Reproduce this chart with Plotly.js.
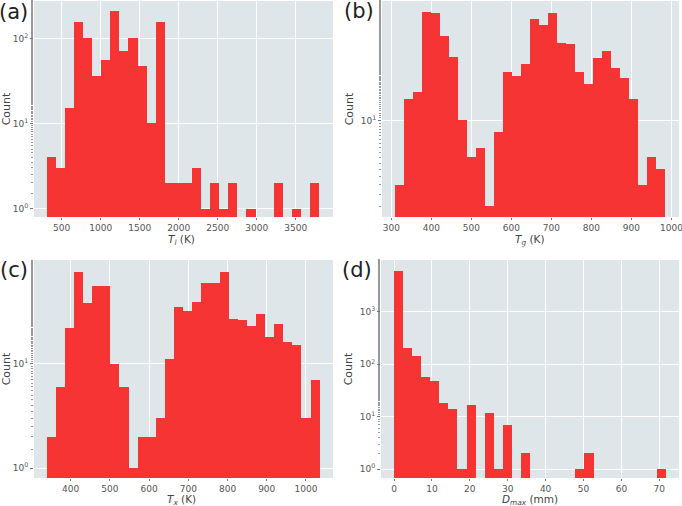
<!DOCTYPE html>
<html>
<head>
<meta charset="utf-8">
<script src="https://cdn.plot.ly/plotly-3.0.1.min.js"></script>
<style>
html,body{margin:0;padding:0;background:#fff;}
#chart{width:682px;height:506px;}
</style>
</head>
<body>
<div id="chart"></div>
<script>
// ---- data (30-bin histograms, counts per bin) ----
const TL_COUNTS   = [4,3,15,158,100,36,56,212,72,100,47,10,156,2,2,2,3,1,2,1,2,0,1,0,0,2,0,1,0,2];
const TG_COUNTS   = [3,15,17,77,75,49,33,10,5,6,2,8,25,23,29,67,60,75,43,42,25,20,32,37,27,22,15,3,5,4];
const TX_COUNTS   = [2,6,22,76,38,56,56,10,6,1,2,2,3,11,35,32,39,60,60,76,27,26,23,30,18,24,16,15,3,7];
const DMAX_COUNTS = [5900,206,147,58,48,18,14,1,17,0,12,1,7,0,2,0,0,0,0,0,1,2,0,0,0,0,0,0,0,1];

// bin ranges (first edge, last edge) for each histogram
const TL_BINS   = [308, 3800];
const TG_BINS   = [308.3, 985];
const TX_BINS   = [338.7, 1034.9];
const DMAX_BINS = [0, 71.8];

// tick labels
const TL_XTICKS   = [500,1000,1500,2000,2500,3000,3500];
const TG_XTICKS   = [300,400,500,600,700,800,900,1000];
const TX_XTICKS   = [400,500,600,700,800,900,1000];
const DMAX_XTICKS = [0,10,20,30,40,50,60,70];
const TL_YTICKS   = [1,10,100];
const TG_YTICKS   = [10];
const TX_YTICKS   = [1,10];
const DMAX_YTICKS = [1,10,100,1000];

const PANEL_LABELS = ['(a)','(b)','(c)','(d)'];
const X_TITLES = ['<i>T<sub>l</sub></i> (K)','<i>T<sub>g</sub></i> (K)','<i>T<sub>x</sub></i> (K)','<i>D<sub>max</sub></i> (mm)'];
const Y_TITLE = 'Count';

function supText(v){ return '10<sup>' + Math.round(Math.log10(v)) + '</sup>'; }

function histTrace(counts, bins, ax){
  const n = counts.length;
  const w = (bins[1]-bins[0])/n;
  const x = counts.map((c,i)=> bins[0] + (i+0.5)*w);
  const y = counts.map(c => c > 0 ? c : null);
  return {
    type:'bar', x:x, y:y, width:w,
    xaxis:'x'+ax, yaxis:'y'+ax,
    marker:{color:'#f63434', line:{width:0}},
    hoverinfo:'x+y', showlegend:false
  };
}

const traces = [
  histTrace(TL_COUNTS, TL_BINS, ''),
  histTrace(TG_COUNTS, TG_BINS, '2'),
  histTrace(TX_COUNTS, TX_BINS, '3'),
  histTrace(DMAX_COUNTS, DMAX_BINS, '4')
];

const W = 682, H = 506;
function xd(a,b){ return [a/W, b/W]; }
function yd(top,bot){ return [1-bot/H, 1-top/H]; }

const tickFont = {family:'DejaVu Sans', size:9, color:'#555'};
const titleFont = {family:'DejaVu Sans', size:11, color:'#444'};
const xTitleFont = {family:'DejaVu Sans', size:10.5, color:'#444'};

function xaxis(dom, range, ticks, anchor){
  return {
    domain:dom, range:range, anchor:anchor,
    tickvals:ticks, ticktext:ticks.map(String),
    ticks:'outside', ticklen:2, tickcolor:'#777', tickwidth:1,
    ticklabeloverflow:'allow',
    showgrid:true, gridcolor:'#ffffff', gridwidth:1,
    zeroline:false, showline:false,
    tickfont:tickFont,
    automargin:false
  };
}
function yaxis(dom, range, ticks, anchor){
  return {
    type:'log', domain:dom, range:range, anchor:anchor,
    tickvals:ticks, ticktext:ticks.map(supText),
    ticks:'outside', ticklen:3, tickcolor:'#777', tickwidth:1,
    ticklabeloverflow:'allow',
    minor:{ticks:'outside', ticklen:2, tickcolor:'#999', showgrid:false},
    showgrid:true, gridcolor:'#ffffff', gridwidth:1,
    zeroline:false, showline:false,
    tickfont:tickFont,
    title:{text:Y_TITLE, font:titleFont, standoff:4},
    automargin:false
  };
}

const panelLabelPos = [[13,12],[359,11],[14,270],[357,270]];
const xTitlePos = [[181,240],[530,240],[181,499.5],[530,499.5]];

const annotations = panelLabelPos.map((p,i)=>({
  text:PANEL_LABELS[i], xref:'paper', yref:'paper',
  x:p[0]/W, y:1-p[1]/H, xanchor:'center', yanchor:'middle',
  showarrow:false, font:{family:'DejaVu Sans', size:21, color:'#222'}
})).concat(xTitlePos.map((p,i)=>({
  text:X_TITLES[i], xref:'paper', yref:'paper',
  x:p[0]/W, y:1-p[1]/H, xanchor:'center', yanchor:'middle',
  showarrow:false, font:xTitleFont, borderpad:0
})));

const layout = {
  width:W, height:H,
  margin:{l:0,r:0,t:0,b:0},
  paper_bgcolor:'#ffffff',
  plot_bgcolor:'#dfe6e9',
  bargap:0,
  font:{family:'DejaVu Sans'},
  xaxis:  xaxis(xd(34,333),  [145,3978],   TL_XTICKS,   'y'),
  yaxis:  yaxis(yd(1,217),   [-0.10,2.44], TL_YTICKS,   'x'),
  xaxis2: xaxis(xd(382,679), [276.7,1019], TG_XTICKS,   'y2'),
  yaxis2: yaxis(yd(1,217),   [0.214,1.973],TG_YTICKS,   'x2'),
  xaxis3: xaxis(xd(34,333),  [306.4,1069], TX_XTICKS,   'y3'),
  yaxis3: yaxis(yd(260,478), [-0.095,1.994],TX_YTICKS,  'x3'),
  xaxis4: xaxis(xd(381,679), [-3.43,75.2], DMAX_XTICKS, 'y4'),
  yaxis4: yaxis(yd(260,478), [-0.17,3.99], DMAX_YTICKS, 'x4'),
  annotations: annotations
};

Plotly.newPlot('chart', traces, layout, {staticPlot:true, displayModeBar:false});
</script>
</body>
</html>
